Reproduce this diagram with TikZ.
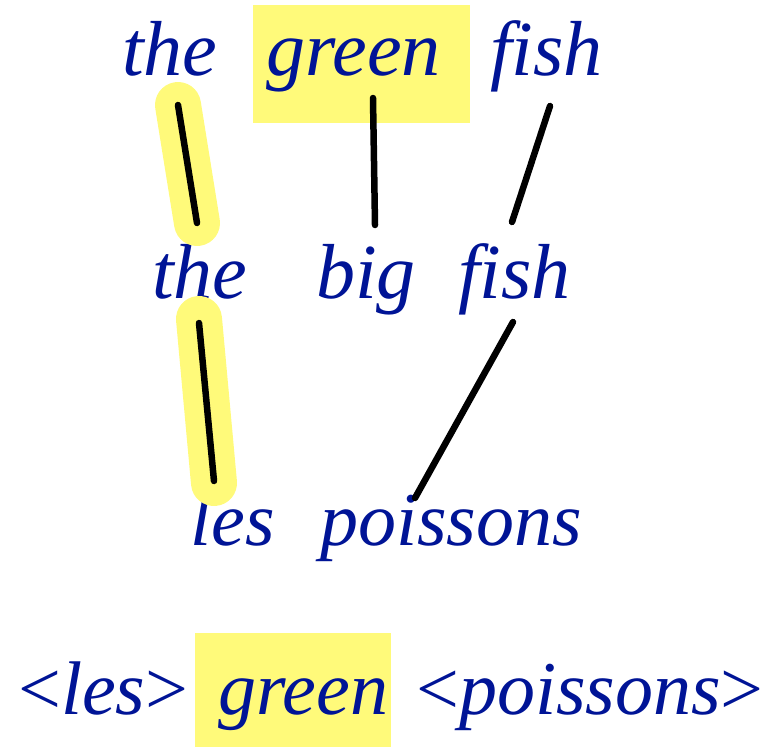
\documentclass[tikz,border=0pt]{standalone}
\usepackage{fontspec}
\usetikzlibrary{calc}
\setmainfont{Liberation Serif}[ItalicFont={Liberation Serif Italic}]
\definecolor{wblue}{RGB}{0,20,150}
\definecolor{hl}{RGB}{255,250,122}
\newcommand{\lt}{\scalebox{1.0}{\upshape<}}
\newcommand{\gt}{\scalebox{1.0}{\upshape>}}
\begin{document}
\begin{tikzpicture}[x=1pt,y=-1pt,
  word/.style={anchor=base west,inner sep=0pt,text=wblue,font=\fontsize{76}{80}\selectfont\itshape},
  topword/.style={word,font=\fontsize{78}{80}\selectfont\itshape},
  link/.style={line width=6.5pt,line cap=round,black},
  glow/.style={line width=46pt,line cap=round,hl}]
\useasboundingbox (0,0) rectangle (771,747);
% highlight boxes
\fill[hl] (253,5) rectangle (470,123);
\fill[hl] (195,633) rectangle (391,747);
% row 1
\node[topword] (the1) at (122,75) {the};
\node[topword] (green1) at (266,75) {green};
\node[topword] (fish1) at (490,75) {fish};
% row 2
\node[topword] (the2) at (152,298) {the};
\node[topword] (big2) at (316,298) {big};
\node[topword] (fish2) at (458,298) {fish};
% row 3
\node[word] (les3) at (190,545) {les};
\node[word] (poissons3) at (320,545) {poissons};
% row 4
\node[word] (les4) at (18,714) {\lt les\gt};
\node[word] (green4) at (218,714) {green};
\node[word] (poissons4) at (416,714) {\lt poissons\gt};
% connector ends
\coordinate (a1) at (178,105); \coordinate (a2) at (197,223);
\coordinate (b1) at (373,98);  \coordinate (b2) at (375,225);
\coordinate (c1) at (550,106); \coordinate (c2) at (512,222);
\coordinate (d1) at (199,323); \coordinate (d2) at (214,481);
\coordinate (e1) at (513,322); \coordinate (e2) at (415,498);
% highlights
\draw[glow] (a1) -- (a2);
\draw[glow] ($(d1)+(0,-4)$) -- ($(d2)+(0,2)$);
% links
\draw[link] (a1) -- (a2);
\draw[link] (b1) -- (b2);
\draw[link] (c1) -- (c2);
\draw[link] (d1) -- (d2);
\draw[link] (e1) -- (e2);
\end{tikzpicture}
\end{document}
